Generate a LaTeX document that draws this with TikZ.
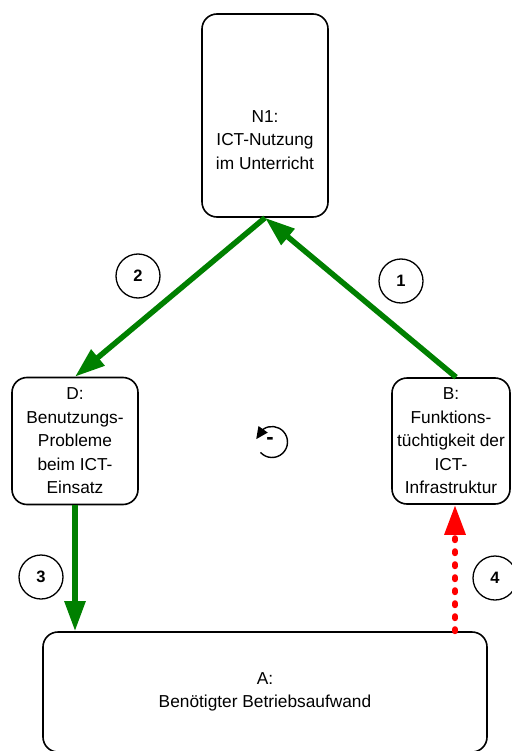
\documentclass[tikz,border=0pt]{standalone}
\usepackage{fontspec}
\setmainfont{Liberation Sans}
\usetikzlibrary{arrows.meta}

\definecolor{flowgreen}{RGB}{0,128,0}
\definecolor{flowred}{RGB}{255,0,0}

\tikzset{
    boxfont/.style={font=\fontsize{17.3}{23.5}\selectfont},
    box/.style={draw, line width=1.6pt, rounded corners=15pt, align=center,
        inner sep=0pt, boxfont},
    flow/.style={line width=5.5pt, flowgreen,
        -{Triangle[length=30pt, width=20pt]}},
    weak/.style={line width=6pt, flowred, line cap=round,
        dash pattern=on 2pt off 11pt, -{Triangle[length=30pt, width=20pt]}},
    numcirc/.style={draw, circle, line width=1.3pt, minimum size=44pt,
        inner sep=0pt, font=\fontsize{16.5}{16.5}\selectfont\bfseries},
}

\begin{document}
\begin{tikzpicture}[x=1pt, y=-1pt]

    \useasboundingbox (0,0) rectangle (511,751);

    % the four factors
    \node [box, minimum width=126pt, minimum height=203pt] (N1) at (265, 115.5) {};
    \node [align=center, boxfont] (N1text) at (265, 140)
        {N1:\\ICT-Nutzung\\im Unterricht};

    \node [box, minimum width=126pt, minimum height=127pt] (D) at (75, 441)
        {D:\\Benutzungs-\\Probleme\\beim ICT-\\Einsatz};

    \node [box, minimum width=118pt, minimum height=126pt] (B) at (451, 441)
        {B:\\Funktions-\\tüchtigkeit der\\ICT-\\Infrastruktur};

    \node [box, minimum width=444pt, minimum height=120pt] (A) at (265, 692)
        {A:\\Benötigter Betriebsaufwand};

    % influences
    \draw [flow] ([xshift=5pt]B.north) -- (N1.south);
    \draw [flow] (N1.south) -- (D.north);
    \draw [flow] (D.south) -- (D.south |- A.north);
    \draw [weak] ([xshift=4pt]B.south |- A.north) -- ([xshift=4pt]B.south);

    \node [numcirc] (c1) at (401, 281) {1};
    \node [numcirc] (c2) at (138, 276) {2};
    \node [numcirc] (c3) at (41, 577) {3};
    \node [numcirc] (c4) at (495, 578) {4};

    % balancing loop (y axis points down, so the angles are negated)
    \coordinate (loop) at (272, 442);
    \draw [line width=1.4pt, -{Triangle[length=12pt, width=11pt]}]
        (loop) ++(-222:15.5) arc [start angle=-222, end angle=-485, radius=15.5]
        -- ++(-235:12);
    \node [font=\fontsize{22}{22}\selectfont\bfseries] (minus) at (270, 441) {-};

\end{tikzpicture}
\end{document}
